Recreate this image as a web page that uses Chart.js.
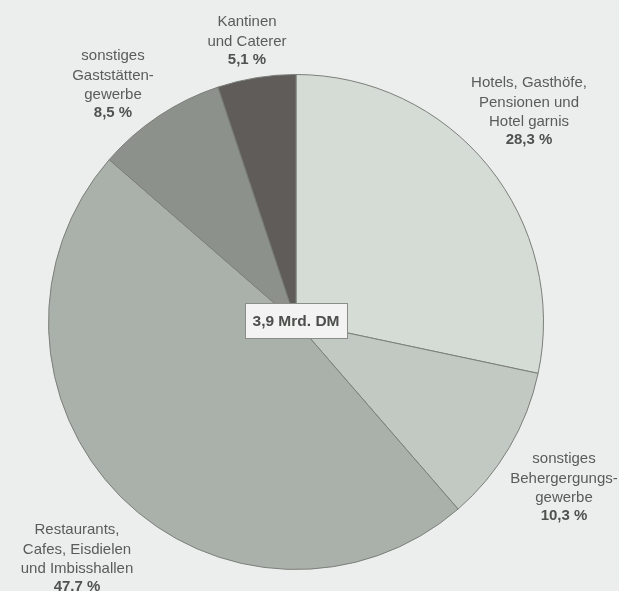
<!DOCTYPE html>
<html lang="de">
<head>
<meta charset="utf-8">
<script src="https://cdn.jsdelivr.net/npm/chart.js@4"></script>
<style>
  html, body { margin: 0; padding: 0; background: #eceeee; }
  #wrap { width: 619px; height: 591px; position: relative; }
</style>
</head>
<body>
<div id="wrap"><canvas id="c" width="619" height="591"></canvas></div>
<script>
// Umsatzanteile im Gastgewerbe (Summe 3,9 Mrd. DM)
const categories = [
  ['Hotels, Gasthöfe,', 'Pensionen und', 'Hotel garnis'],
  ['sonstiges', 'Behergergungs-', 'gewerbe'],
  ['Restaurants,', 'Cafes, Eisdielen', 'und Imbisshallen'],
  ['sonstiges', 'Gaststätten-', 'gewerbe'],
  ['Kantinen', 'und Caterer']
];
const shares = [28.3, 10.3, 47.7, 8.5, 5.1];
const shareLabels = ['28,3 %', '10,3 %', '47.7 %', '8,5 %', '5,1 %'];
const totalLabel = '3,9 Mrd. DM';

const sliceColors = ['#d5dbd5', '#c2c8c2', '#aab0aa', '#8d918b', '#5f5c5a'];

// Label anchor (centre of text block, top line) for each slice
const labelAnchors = [
  { x: 529, y: 83 },
  { x: 564, y: 459 },
  { x: 77, y: 530 },
  { x: 113, y: 56 },
  { x: 247, y: 22 }
];

const labelPlugin = {
  id: 'sliceLabels',
  afterDraw(chart) {
    const ctx = chart.ctx;
    ctx.save();
    ctx.textAlign = 'center';
    ctx.textBaseline = 'middle';
    const lh = 19.4;
    categories.forEach((lines, i) => {
      const a = labelAnchors[i];
      ctx.fillStyle = '#5a5c5a';
      ctx.font = '15px "Liberation Sans", Arial, sans-serif';
      lines.forEach((t, k) => ctx.fillText(t, a.x, a.y + k * lh));
      ctx.fillStyle = '#505250';
      ctx.font = 'bold 15px "Liberation Sans", Arial, sans-serif';
      ctx.fillText(shareLabels[i], a.x, a.y + lines.length * lh - 1);
    });

    // Centre box with the total
    const arc = chart.getDatasetMeta(0).data[0];
    const cx = arc.x, cy = arc.y;
    const w = 102, h = 35;
    const bx = Math.round(cx - w / 2) + 0.5, by = Math.round(cy - h / 2 - 2) + 0.5;
    ctx.fillStyle = '#f2f3f2';
    ctx.fillRect(bx, by, w, h);
    ctx.strokeStyle = '#8a8d88';
    ctx.lineWidth = 1;
    ctx.strokeRect(bx, by, w, h);
    ctx.fillStyle = '#4d4f4d';
    ctx.font = 'bold 15.5px "Liberation Sans", Arial, sans-serif';
    ctx.fillText(totalLabel, cx, by + h / 2 + 1);
    ctx.restore();
  }
};

new Chart(document.getElementById('c'), {
  type: 'pie',
  data: {
    labels: categories.map(l => l.join(' ')),
    datasets: [{
      data: shares,
      backgroundColor: sliceColors,
      borderColor: '#7b7e79',
      borderWidth: 1,
      borderAlign: 'center'
    }]
  },
  options: {
    responsive: false,
    animation: false,
    rotation: 0,
    layout: { padding: { top: 74, bottom: 21, left: 48, right: 75 } },
    plugins: {
      legend: { display: false },
      tooltip: { enabled: false }
    }
  },
  plugins: [labelPlugin]
});
</script>
</body>
</html>
